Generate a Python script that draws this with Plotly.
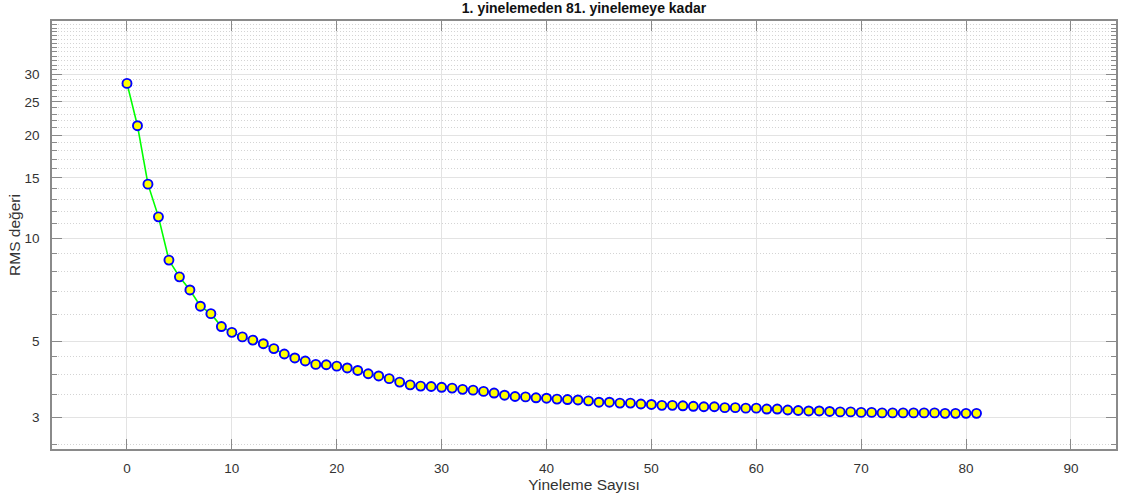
import plotly.graph_objects as go

# Iteration index and RMS value at each iteration
iterations = list(range(0, 82))
rms_values = [
    28.3, 21.3, 14.38, 11.54, 8.63, 7.71, 7.06, 6.33, 6.02, 5.52,
    5.31, 5.15, 5.04, 4.92, 4.76, 4.59, 4.47, 4.38, 4.28, 4.27,
    4.23, 4.18, 4.11, 4.02, 3.96, 3.89, 3.80, 3.73, 3.70, 3.69,
    3.67, 3.65, 3.62, 3.60, 3.57, 3.53, 3.48, 3.45, 3.44, 3.42,
    3.41, 3.39, 3.38, 3.37, 3.35, 3.32, 3.32, 3.30, 3.30, 3.28,
    3.27, 3.25, 3.25, 3.24, 3.23, 3.22, 3.22, 3.20, 3.20, 3.19,
    3.19, 3.17, 3.17, 3.15, 3.14, 3.13, 3.13, 3.12, 3.11, 3.11,
    3.10, 3.10, 3.09, 3.09, 3.09, 3.09, 3.09, 3.09, 3.08, 3.08,
    3.08, 3.08,
]

# Axis ticks
x_ticks = [0, 10, 20, 30, 40, 50, 60, 70, 80, 90]
y_major_ticks = [3, 5, 10, 15, 20, 25, 30]
y_minor_ticks = ([2.5, 3.5, 4, 4.5, 6, 7, 8, 9, 11, 12, 13, 14]
                 + [16, 17, 18, 19, 21, 22, 23, 24, 26, 27, 28, 29]
                 + list(range(31, 44)))

FONT = "Liberation Sans, Arial, sans-serif"
AXIS_GRAY = "#8a8a8a"
TEXT_GRAY = "#333333"

fig = go.Figure()
fig.add_trace(go.Scatter(
    x=iterations,
    y=rms_values,
    mode="lines+markers",
    line=dict(color="#00ff00", width=1.6),
    marker=dict(symbol="circle", size=9, color="#ffff00",
                line=dict(color="#0000ff", width=1.9)),
    showlegend=False,
))

fig.update_layout(
    width=1124,
    height=499,
    margin=dict(l=52, r=6, t=21, b=50),
    paper_bgcolor="white",
    plot_bgcolor="white",
    font=dict(family=FONT, size=13, color=TEXT_GRAY),
    title=dict(
        text="<b>1. yinelemeden 81. yinelemeye kadar</b>",
        x=0.5, xref="paper", xanchor="center",
        y=1, yref="container", yanchor="top", pad=dict(t=3),
        font=dict(family=FONT, size=14, color="#111111"),
    ),
)

fig.update_xaxes(
    range=[-7.15, 94.3],
    tickmode="array",
    tickvals=x_ticks,
    ticks="inside",
    ticklen=10,
    tickwidth=1,
    tickcolor=AXIS_GRAY,
    showline=True,
    linecolor=AXIS_GRAY,
    linewidth=1.5,
    mirror="allticks",
    showgrid=True,
    gridcolor="#e3e3e3",
    gridwidth=1,
    zeroline=False,
    ticklabelstandoff=6,
    tickfont=dict(size=13.5, color=TEXT_GRAY),
    title=dict(text="Yineleme Sayısı", font=dict(size=15.5, color=TEXT_GRAY), standoff=4),
)

fig.update_yaxes(
    type="log",
    range=[0.3845, 1.634],
    tickmode="array",
    tickvals=y_major_ticks,
    ticktext=[str(v) for v in y_major_ticks],
    ticks="inside",
    ticklen=10,
    tickwidth=1,
    tickcolor=AXIS_GRAY,
    showline=True,
    linecolor=AXIS_GRAY,
    linewidth=1.5,
    mirror="allticks",
    showgrid=True,
    gridcolor="#e3e3e3",
    gridwidth=1,
    zeroline=False,
    ticklabelstandoff=8,
    tickfont=dict(size=13.5, color=TEXT_GRAY),
    minor=dict(
        tickmode="array",
        tickvals=y_minor_ticks,
        ticks="inside",
        ticklen=5,
        tickcolor=AXIS_GRAY,
        showgrid=True,
        gridcolor="#d4d4d4",
        griddash="1px,2px",
        gridwidth=1,
    ),
    title=dict(text="RMS değeri", font=dict(size=15.5, color=TEXT_GRAY), standoff=0),
)

fig.write_html("out.html")
